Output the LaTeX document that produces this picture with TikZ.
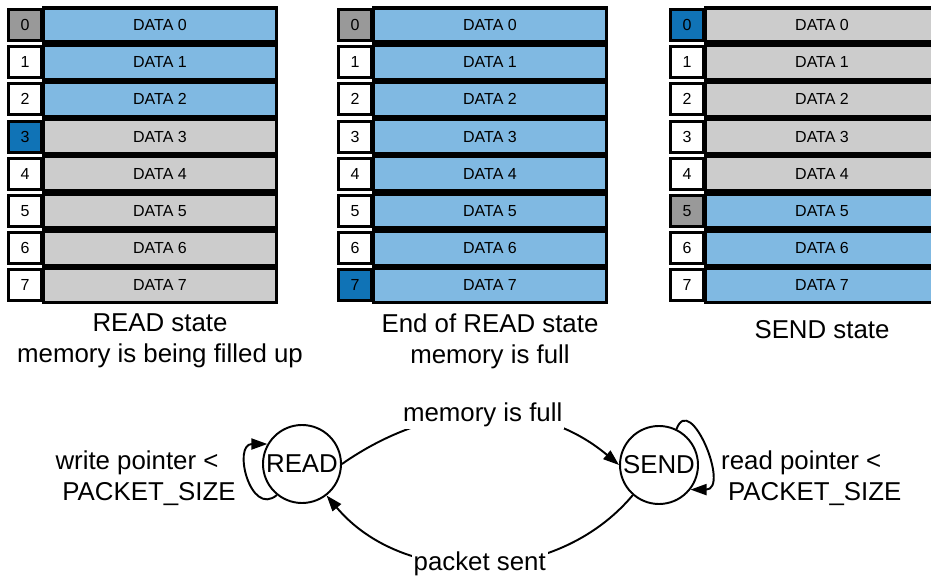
\documentclass[tikz,border=0pt]{standalone}
\usepackage{fontspec}
\setmainfont{Liberation Sans}
\usetikzlibrary{arrows.meta}

\definecolor{datablue}{RGB}{128,185,226}
\definecolor{ptrblue}{RGB}{16,115,182}
\definecolor{ptrgrey}{RGB}{153,153,153}
\definecolor{emptygrey}{RGB}{204,204,204}

%% one memory column: #1 name, #2 x offset, #3..#4 filled rows,
%% #5 grey pointer row, #6 blue pointer row
\newcommand{\memcol}[6]{%
  \foreach \i in {0,...,7} {
    \def\dc{emptygrey}\def\ic{white}
    \ifnum\i<#3\else\ifnum\i>#4\else\def\dc{datablue}\fi\fi
    \ifnum\i=#5\def\ic{ptrgrey}\fi
    \ifnum\i=#6\def\ic{ptrblue}\fi
    \node[idx, fill=\ic] (#1-idx\i) at (#2+0.5, 11.04-0.744*\i) {\i};
    \node[cell, fill=\dc] (#1-cell\i) at (#2+3.2, 11.04-0.744*\i) {DATA \i};
  }%
}

\begin{document}
\begin{tikzpicture}[
  idx/.style={draw, line width=1.8pt, minimum width=0.65cm, minimum height=0.62cm,
    inner sep=0pt, font=\fontsize{9.1}{11}\selectfont},
  cell/.style={draw, line width=1.8pt, minimum width=4.66cm, minimum height=0.68cm,
    inner sep=0pt, font=\fontsize{9.1}{11}\selectfont},
  caption/.style={align=center, font=\fontsize{14.7}{17.6}\selectfont},
  state/.style={circle, draw, line width=1.1pt, minimum size=1.56cm, inner sep=0pt,
    font=\fontsize{14.7}{17.6}\selectfont},
  note/.style={align=center, font=\fontsize{14.7}{17.6}\selectfont},
  lbl/.style={fill=white, inner sep=1pt, font=\fontsize{14.7}{17.6}\selectfont},
  edge/.style={line width=1.1pt, -{Triangle[length=3.2mm, width=2.2mm]}},
]
\useasboundingbox (0,0) rectangle (18.62,11.54);

%% ---- memory columns ----
\memcol{rd}{0}{0}{2}{0}{3}
\memcol{full}{6.6}{0}{7}{0}{7}
\memcol{snd}{13.24}{5}{7}{5}{0}

\node[caption] (rdcap) at (3.2, 4.73) {READ state\\memory is being filled up};
\node[caption] (fullcap) at (9.8, 4.71) {End of READ state\\memory is full};
\node[caption] (sndcap) at (16.44, 4.94) {SEND state};

%% ---- state machine ----
\node[state] (read) at (6.04, 2.26) {READ};
\node[state] (send) at (13.18, 2.24) {SEND};

\node[note] (wlbl) at (2.86, 1.98)
  {write pointer <\hspace*{0.24cm}\\\hspace*{0.24cm}PACKET\_SIZE};
\node[note] (rlbl) at (16.16, 1.98)
  {read pointer <\hspace*{0.27cm}\\\hspace*{0.27cm}PACKET\_SIZE};

\draw[edge] (read.east) to[out=35, in=140]
  node[lbl] (fulllbl) {memory is full} (send.west);
\draw[edge] (send.-131) to[out=-130, in=-50]
  node[lbl] (sentlbl) {packet sent} (read.-52);

% self loops
\draw[edge] (read.231) .. controls +(220:0.7) and +(180:0.7) .. (read.150);
\draw[edge] (send.64) .. controls +(70:0.8) and +(0:0.8) .. (send.-38);

\end{tikzpicture}
\end{document}
